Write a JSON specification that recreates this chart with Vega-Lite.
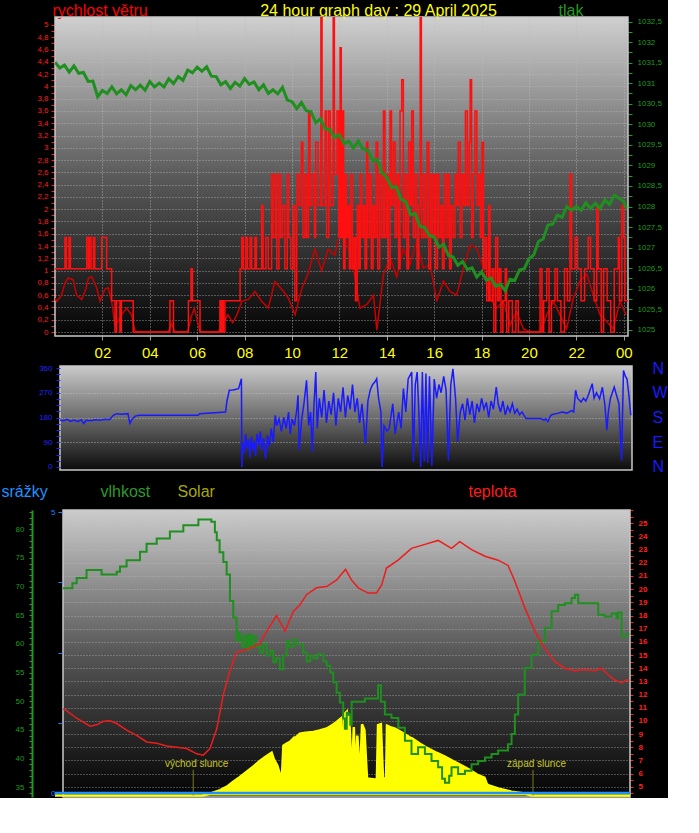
{
"$schema": "https://vega.github.io/schema/vega-lite/v6.json",
"background": "#000000",
"padding": {"left": 1, "top": 2, "right": 0, "bottom": 0},
"spacing": 30,
"bounds": "flush",
"config": {
  "view": {"stroke": null},
  "axis": {"labelFont": "Liberation Sans", "titleFont": "Liberation Sans", "titleFontWeight": "normal", "labelFontSize": 8, "domain": false, "labelFlush": false, "labelOverlap": false}
},
"datasets": {
"pres": [{"h":0,"v":1031.51},{"h":0.2,"v":1031.37},{"h":0.4,"v":1031.44},{"h":0.6,"v":1031.27},{"h":0.8,"v":1031.42},{"h":1.0,"v":1031.24},{"h":1.2,"v":1031.26},{"h":1.4,"v":1031.04},{"h":1.6,"v":1031.05},{"h":1.8,"v":1030.67},{"h":2.0,"v":1030.82},{"h":2.2,"v":1030.75},{"h":2.4,"v":1030.91},{"h":2.6,"v":1030.74},{"h":2.8,"v":1030.84},{"h":3.0,"v":1030.72},{"h":3.2,"v":1030.94},{"h":3.4,"v":1030.84},{"h":3.6,"v":1030.95},{"h":3.8,"v":1030.83},{"h":4.0,"v":1031.04},{"h":4.2,"v":1030.91},{"h":4.4,"v":1031.0},{"h":4.6,"v":1030.91},{"h":4.8,"v":1031.11},{"h":5.0,"v":1030.99},{"h":5.2,"v":1031.16},{"h":5.4,"v":1031.07},{"h":5.6,"v":1031.32},{"h":5.8,"v":1031.25},{"h":6.0,"v":1031.39},{"h":6.2,"v":1031.29},{"h":6.4,"v":1031.4},{"h":6.6,"v":1031.17},{"h":6.8,"v":1031.16},{"h":7.0,"v":1030.96},{"h":7.2,"v":1031.04},{"h":7.4,"v":1030.87},{"h":7.6,"v":1031.02},{"h":7.8,"v":1030.93},{"h":8.0,"v":1031.11},{"h":8.2,"v":1030.97},{"h":8.4,"v":1031.03},{"h":8.6,"v":1030.84},{"h":8.8,"v":1030.96},{"h":9.0,"v":1030.75},{"h":9.2,"v":1030.84},{"h":9.4,"v":1030.74},{"h":9.6,"v":1030.9},{"h":9.8,"v":1030.59},{"h":10.0,"v":1030.55},{"h":10.2,"v":1030.38},{"h":10.4,"v":1030.53},{"h":10.6,"v":1030.33},{"h":10.8,"v":1030.31},{"h":11.0,"v":1030.04},{"h":11.2,"v":1030.13},{"h":11.4,"v":1029.89},{"h":11.6,"v":1029.87},{"h":11.8,"v":1029.68},{"h":12.0,"v":1029.75},{"h":12.2,"v":1029.53},{"h":12.4,"v":1029.59},{"h":12.6,"v":1029.42},{"h":12.8,"v":1029.59},{"h":13.0,"v":1029.4},{"h":13.2,"v":1029.37},{"h":13.4,"v":1029.12},{"h":13.6,"v":1029.14},{"h":13.8,"v":1028.82},{"h":14.0,"v":1028.71},{"h":14.2,"v":1028.46},{"h":14.4,"v":1028.48},{"h":14.6,"v":1028.18},{"h":14.8,"v":1028.12},{"h":15.0,"v":1027.8},{"h":15.2,"v":1027.83},{"h":15.4,"v":1027.52},{"h":15.6,"v":1027.49},{"h":15.8,"v":1027.29},{"h":16.0,"v":1027.26},{"h":16.2,"v":1027.01},{"h":16.4,"v":1027.08},{"h":16.6,"v":1026.81},{"h":16.8,"v":1026.77},{"h":17.0,"v":1026.57},{"h":17.2,"v":1026.66},{"h":17.4,"v":1026.47},{"h":17.6,"v":1026.51},{"h":17.8,"v":1026.28},{"h":18.0,"v":1026.41},{"h":18.2,"v":1026.21},{"h":18.4,"v":1026.26},{"h":18.6,"v":1026.06},{"h":18.8,"v":1026.11},{"h":19.0,"v":1025.95},{"h":19.2,"v":1026.23},{"h":19.4,"v":1026.2},{"h":19.6,"v":1026.46},{"h":19.8,"v":1026.48},{"h":20.0,"v":1026.73},{"h":20.2,"v":1026.82},{"h":20.4,"v":1027.15},{"h":20.6,"v":1027.21},{"h":20.8,"v":1027.55},{"h":21.0,"v":1027.57},{"h":21.2,"v":1027.79},{"h":21.4,"v":1027.74},{"h":21.6,"v":1028.0},{"h":21.8,"v":1027.91},{"h":22.0,"v":1028.0},{"h":22.2,"v":1027.91},{"h":22.4,"v":1028.09},{"h":22.6,"v":1027.95},{"h":22.8,"v":1028.08},{"h":23.0,"v":1027.95},{"h":23.2,"v":1028.16},{"h":23.4,"v":1028.05},{"h":23.6,"v":1028.27},{"h":23.8,"v":1028.2},{"h":24.0,"v":1028.12},{"h":24.1,"v":1027.96}],
"gust": [{"h":0,"v":1.03},{"h":0.42,"v":1.54},{"h":0.48,"v":1.03},{"h":0.59,"v":1.54},{"h":0.65,"v":1.03},{"h":1.34,"v":1.54},{"h":1.41,"v":1.03},{"h":1.45,"v":1.54},{"h":1.52,"v":1.03},{"h":1.62,"v":1.54},{"h":1.68,"v":1.03},{"h":1.97,"v":1.54},{"h":2.18,"v":1.03},{"h":2.39,"v":0.51},{"h":2.53,"v":0},{"h":2.6,"v":0.51},{"h":2.74,"v":0},{"h":2.8,"v":0.51},{"h":3.3,"v":0},{"h":4.85,"v":0.51},{"h":5.0,"v":0},{"h":5.63,"v":0.51},{"h":5.74,"v":1.03},{"h":5.8,"v":0.51},{"h":6.12,"v":0},{"h":6.96,"v":0.51},{"h":7.0,"v":0},{"h":7.05,"v":0.51},{"h":7.1,"v":0},{"h":7.17,"v":0.51},{"h":7.81,"v":1.03},{"h":7.88,"v":1.54},{"h":7.95,"v":1.03},{"h":8.05,"v":1.54},{"h":8.12,"v":1.03},{"h":8.23,"v":1.54},{"h":8.3,"v":1.03},{"h":8.44,"v":1.54},{"h":8.5,"v":1.03},{"h":8.72,"v":2.06},{"h":8.78,"v":1.03},{"h":8.9,"v":1.54},{"h":9.0,"v":1.03},{"h":9.14,"v":2.57},{"h":9.2,"v":1.54},{"h":9.3,"v":2.57},{"h":9.36,"v":1.03},{"h":9.45,"v":2.57},{"h":9.52,"v":1.54},{"h":9.6,"v":2.06},{"h":9.7,"v":1.03},{"h":9.8,"v":2.57},{"h":9.86,"v":1.54},{"h":9.95,"v":1.03},{"h":10.05,"v":2.06},{"h":10.12,"v":0.51},{"h":10.2,"v":2.57},{"h":10.3,"v":2.06},{"h":10.4,"v":3.09},{"h":10.46,"v":1.54},{"h":10.55,"v":2.57},{"h":10.62,"v":1.54},{"h":10.7,"v":3.6},{"h":10.76,"v":2.06},{"h":10.85,"v":2.57},{"h":10.95,"v":1.54},{"h":11.0,"v":3.09},{"h":11.1,"v":2.06},{"h":11.22,"v":5.14},{"h":11.27,"v":2.06},{"h":11.4,"v":3.6},{"h":11.46,"v":1.54},{"h":11.55,"v":3.6},{"h":11.62,"v":2.06},{"h":11.74,"v":5.14},{"h":11.79,"v":2.57},{"h":11.9,"v":3.6},{"h":11.97,"v":1.54},{"h":12.03,"v":4.63},{"h":12.08,"v":1.54},{"h":12.12,"v":3.6},{"h":12.18,"v":1.03},{"h":12.24,"v":2.57},{"h":12.3,"v":1.54},{"h":12.36,"v":2.06},{"h":12.42,"v":1.03},{"h":12.48,"v":2.57},{"h":12.55,"v":1.03},{"h":12.62,"v":1.54},{"h":12.68,"v":0.51},{"h":12.75,"v":2.06},{"h":12.82,"v":1.03},{"h":12.88,"v":2.57},{"h":12.95,"v":1.54},{"h":13.02,"v":2.06},{"h":13.08,"v":1.03},{"h":13.15,"v":3.09},{"h":13.2,"v":1.54},{"h":13.28,"v":2.57},{"h":13.35,"v":1.03},{"h":13.42,"v":2.06},{"h":13.48,"v":1.54},{"h":13.55,"v":3.09},{"h":13.62,"v":1.03},{"h":13.7,"v":2.57},{"h":13.78,"v":1.54},{"h":13.86,"v":3.6},{"h":13.92,"v":1.54},{"h":14.0,"v":2.57},{"h":14.06,"v":1.03},{"h":14.14,"v":3.6},{"h":14.2,"v":2.06},{"h":14.28,"v":3.09},{"h":14.35,"v":1.54},{"h":14.42,"v":2.57},{"h":14.5,"v":1.03},{"h":14.56,"v":3.6},{"h":14.63,"v":4.11},{"h":14.7,"v":1.54},{"h":14.78,"v":2.57},{"h":14.85,"v":1.03},{"h":14.92,"v":3.09},{"h":15.0,"v":2.06},{"h":15.05,"v":3.6},{"h":15.12,"v":1.54},{"h":15.2,"v":2.57},{"h":15.28,"v":1.03},{"h":15.35,"v":2.06},{"h":15.41,"v":5.14},{"h":15.46,"v":1.54},{"h":15.55,"v":2.57},{"h":15.62,"v":1.54},{"h":15.7,"v":3.09},{"h":15.77,"v":1.03},{"h":15.85,"v":2.57},{"h":15.92,"v":1.54},{"h":16.0,"v":2.57},{"h":16.06,"v":1.03},{"h":16.14,"v":2.57},{"h":16.2,"v":1.54},{"h":16.28,"v":2.06},{"h":16.35,"v":1.03},{"h":16.42,"v":2.57},{"h":16.5,"v":1.54},{"h":16.58,"v":2.57},{"h":16.65,"v":1.03},{"h":16.72,"v":2.06},{"h":16.8,"v":1.54},{"h":16.88,"v":2.57},{"h":16.95,"v":2.06},{"h":17.02,"v":3.09},{"h":17.1,"v":1.54},{"h":17.18,"v":2.57},{"h":17.25,"v":2.06},{"h":17.32,"v":3.6},{"h":17.4,"v":2.06},{"h":17.48,"v":3.09},{"h":17.52,"v":4.11},{"h":17.58,"v":1.54},{"h":17.65,"v":2.57},{"h":17.72,"v":3.6},{"h":17.8,"v":2.06},{"h":17.88,"v":2.57},{"h":17.95,"v":1.54},{"h":18.02,"v":3.09},{"h":18.08,"v":1.03},{"h":18.15,"v":1.54},{"h":18.22,"v":0.51},{"h":18.3,"v":2.06},{"h":18.36,"v":0.51},{"h":18.45,"v":1.03},{"h":18.52,"v":0},{"h":18.6,"v":1.54},{"h":18.68,"v":0.51},{"h":18.75,"v":1.03},{"h":18.82,"v":0},{"h":18.9,"v":0.51},{"h":19.0,"v":1.03},{"h":19.06,"v":0},{"h":19.15,"v":0.51},{"h":19.3,"v":0},{"h":19.45,"v":0.51},{"h":19.55,"v":0},{"h":20.47,"v":1.03},{"h":20.55,"v":0},{"h":20.62,"v":0.51},{"h":20.75,"v":1.03},{"h":20.85,"v":0},{"h":20.95,"v":0.51},{"h":21.1,"v":1.03},{"h":21.2,"v":0.51},{"h":21.35,"v":0},{"h":21.5,"v":1.03},{"h":21.62,"v":0.51},{"h":21.73,"v":2.57},{"h":21.8,"v":1.03},{"h":21.95,"v":1.54},{"h":22.05,"v":1.03},{"h":22.2,"v":0.51},{"h":22.35,"v":1.03},{"h":22.5,"v":1.54},{"h":22.6,"v":1.03},{"h":22.75,"v":0.51},{"h":22.86,"v":2.06},{"h":22.92,"v":1.03},{"h":23.05,"v":0},{"h":23.15,"v":1.03},{"h":23.3,"v":0.51},{"h":23.45,"v":0},{"h":23.6,"v":1.03},{"h":23.77,"v":1.54},{"h":23.82,"v":0.51},{"h":23.92,"v":2.06},{"h":24.0,"v":1.54},{"h":24.05,"v":0.51},{"h":24.2,"v":0.51}],
"avg": [{"h":0,"v":0.55},{"h":0.07,"v":0.5},{"h":0.28,"v":0.6},{"h":0.42,"v":0.8},{"h":0.56,"v":0.88},{"h":0.77,"v":0.85},{"h":0.91,"v":0.6},{"h":1.13,"v":0.53},{"h":1.3,"v":0.7},{"h":1.41,"v":0.88},{"h":1.55,"v":0.9},{"h":1.76,"v":0.72},{"h":1.9,"v":0.5},{"h":2.11,"v":0.7},{"h":2.25,"v":0.72},{"h":2.39,"v":0.5},{"h":2.53,"v":0.11},{"h":2.7,"v":0.2},{"h":2.81,"v":0.28},{"h":3.02,"v":0.39},{"h":3.23,"v":0.28},{"h":3.38,"v":0},{"h":4.78,"v":0},{"h":4.92,"v":0.14},{"h":5.06,"v":0},{"h":5.6,"v":0},{"h":5.75,"v":0.25},{"h":5.88,"v":0.39},{"h":6.0,"v":0.2},{"h":6.12,"v":0},{"h":6.9,"v":0},{"h":7.03,"v":0.1},{"h":7.3,"v":0.28},{"h":7.5,"v":0.15},{"h":7.7,"v":0.3},{"h":7.88,"v":0.5},{"h":8.16,"v":0.53},{"h":8.44,"v":0.66},{"h":8.72,"v":0.5},{"h":9.0,"v":0.39},{"h":9.28,"v":0.82},{"h":9.56,"v":0.7},{"h":9.85,"v":0.55},{"h":10.13,"v":0.28},{"h":10.41,"v":0.7},{"h":10.69,"v":0.96},{"h":10.97,"v":1.35},{"h":11.25,"v":1.0},{"h":11.53,"v":1.35},{"h":11.81,"v":1.25},{"h":12.03,"v":1.63},{"h":12.31,"v":1.47},{"h":12.59,"v":1.04},{"h":12.87,"v":0.39},{"h":13.16,"v":0.45},{"h":13.44,"v":0.6},{"h":13.58,"v":0.03},{"h":13.86,"v":0.94},{"h":14.14,"v":1.21},{"h":14.42,"v":0.9},{"h":14.7,"v":1.36},{"h":14.98,"v":1.1},{"h":15.26,"v":1.47},{"h":15.55,"v":1.04},{"h":15.83,"v":1.1},{"h":16.11,"v":0.5},{"h":16.39,"v":0.83},{"h":16.67,"v":0.66},{"h":16.95,"v":0.6},{"h":17.23,"v":1.04},{"h":17.52,"v":1.42},{"h":17.8,"v":1.36},{"h":18.08,"v":1.04},{"h":18.36,"v":0.55},{"h":18.64,"v":0.39},{"h":18.92,"v":0.5},{"h":19.2,"v":0.11},{"h":19.48,"v":0.33},{"h":19.77,"v":0.05},{"h":20.05,"v":0},{"h":20.47,"v":0},{"h":20.75,"v":0.28},{"h":21.03,"v":0.5},{"h":21.31,"v":0.28},{"h":21.59,"v":0.05},{"h":21.87,"v":0.55},{"h":22.16,"v":0.83},{"h":22.44,"v":0.94},{"h":22.72,"v":0.6},{"h":23.0,"v":0.28},{"h":23.28,"v":0.17},{"h":23.56,"v":0.05},{"h":23.84,"v":0.5},{"h":24.1,"v":0.28}],
"dir": [{"h":0,"v":170},{"h":0.15,"v":168},{"h":0.3,"v":173},{"h":0.45,"v":166},{"h":0.6,"v":171},{"h":0.75,"v":165},{"h":0.9,"v":172},{"h":1.0,"v":158},{"h":1.1,"v":170},{"h":1.3,"v":168},{"h":1.5,"v":172},{"h":1.7,"v":170},{"h":1.9,"v":174},{"h":2.09,"v":172},{"h":2.25,"v":188},{"h":2.4,"v":194},{"h":2.6,"v":192},{"h":2.87,"v":194},{"h":2.95,"v":158},{"h":3.05,"v":175},{"h":3.18,"v":185},{"h":3.34,"v":188},{"h":4.5,"v":188},{"h":5.83,"v":188},{"h":5.9,"v":194},{"h":6.99,"v":200},{"h":7.05,"v":240},{"h":7.15,"v":279},{"h":7.3,"v":280},{"h":7.54,"v":285},{"h":7.66,"v":321},{"h":7.68,"v":0},{"h":7.72,"v":90},{"h":7.78,"v":50},{"h":7.84,"v":120},{"h":7.9,"v":70},{"h":7.96,"v":100},{"h":8.02,"v":35},{"h":8.08,"v":110},{"h":8.14,"v":60},{"h":8.2,"v":95},{"h":8.26,"v":40},{"h":8.32,"v":120},{"h":8.4,"v":80},{"h":8.46,"v":130},{"h":8.52,"v":60},{"h":8.6,"v":105},{"h":8.68,"v":30},{"h":8.76,"v":115},{"h":8.84,"v":75},{"h":8.92,"v":140},{"h":9.0,"v":90},{"h":9.09,"v":188},{"h":9.15,"v":150},{"h":9.25,"v":175},{"h":9.35,"v":130},{"h":9.45,"v":180},{"h":9.55,"v":140},{"h":9.65,"v":200},{"h":9.72,"v":120},{"h":9.8,"v":175},{"h":9.9,"v":150},{"h":10.0,"v":210},{"h":10.05,"v":261},{"h":10.1,"v":61},{"h":10.2,"v":170},{"h":10.3,"v":230},{"h":10.41,"v":315},{"h":10.5,"v":150},{"h":10.58,"v":200},{"h":10.65,"v":55},{"h":10.72,"v":220},{"h":10.8,"v":345},{"h":10.86,"v":140},{"h":10.95,"v":250},{"h":11.05,"v":180},{"h":11.15,"v":280},{"h":11.25,"v":160},{"h":11.35,"v":240},{"h":11.45,"v":190},{"h":11.55,"v":270},{"h":11.65,"v":150},{"h":11.75,"v":250},{"h":11.85,"v":200},{"h":11.95,"v":290},{"h":12.05,"v":180},{"h":12.15,"v":260},{"h":12.25,"v":210},{"h":12.35,"v":300},{"h":12.45,"v":200},{"h":12.55,"v":250},{"h":12.65,"v":160},{"h":12.75,"v":230},{"h":12.9,"v":85},{"h":13.0,"v":240},{"h":13.1,"v":280},{"h":13.2,"v":300},{"h":13.3,"v":310},{"h":13.37,"v":321},{"h":13.45,"v":250},{"h":13.55,"v":200},{"h":13.6,"v":0},{"h":13.68,"v":150},{"h":13.8,"v":130},{"h":13.9,"v":140},{"h":14.05,"v":230},{"h":14.15,"v":120},{"h":14.3,"v":200},{"h":14.4,"v":140},{"h":14.5,"v":285},{"h":14.6,"v":200},{"h":14.7,"v":320},{"h":14.85,"v":345},{"h":14.92,"v":18},{"h":15.0,"v":300},{"h":15.08,"v":345},{"h":15.15,"v":200},{"h":15.23,"v":0},{"h":15.3,"v":345},{"h":15.38,"v":20},{"h":15.45,"v":340},{"h":15.52,"v":15},{"h":15.6,"v":330},{"h":15.7,"v":5},{"h":15.8,"v":320},{"h":15.9,"v":250},{"h":16.0,"v":300},{"h":16.09,"v":270},{"h":16.2,"v":330},{"h":16.3,"v":280},{"h":16.4,"v":24},{"h":16.5,"v":300},{"h":16.59,"v":357},{"h":16.7,"v":250},{"h":16.79,"v":91},{"h":16.9,"v":200},{"h":17.0,"v":230},{"h":17.1,"v":170},{"h":17.2,"v":250},{"h":17.3,"v":190},{"h":17.4,"v":240},{"h":17.5,"v":160},{"h":17.6,"v":230},{"h":17.7,"v":200},{"h":17.8,"v":250},{"h":17.9,"v":210},{"h":18.0,"v":235},{"h":18.1,"v":180},{"h":18.2,"v":240},{"h":18.3,"v":210},{"h":18.42,"v":291},{"h":18.5,"v":230},{"h":18.6,"v":200},{"h":18.7,"v":240},{"h":18.8,"v":190},{"h":18.9,"v":220},{"h":19.0,"v":200},{"h":19.1,"v":230},{"h":19.2,"v":195},{"h":19.3,"v":210},{"h":19.4,"v":190},{"h":19.51,"v":200},{"h":19.67,"v":176},{"h":20.0,"v":176},{"h":20.3,"v":176},{"h":20.44,"v":170},{"h":20.5,"v":176},{"h":20.6,"v":165},{"h":20.7,"v":185},{"h":20.76,"v":190},{"h":21.0,"v":195},{"h":21.2,"v":200},{"h":21.4,"v":196},{"h":21.6,"v":205},{"h":21.69,"v":200},{"h":21.77,"v":279},{"h":21.85,"v":250},{"h":22.0,"v":236},{"h":22.1,"v":250},{"h":22.2,"v":240},{"h":22.3,"v":260},{"h":22.47,"v":303},{"h":22.55,"v":250},{"h":22.65,"v":270},{"h":22.78,"v":248},{"h":22.9,"v":290},{"h":23.0,"v":230},{"h":23.09,"v":134},{"h":23.15,"v":200},{"h":23.24,"v":250},{"h":23.32,"v":270},{"h":23.4,"v":291},{"h":23.5,"v":260},{"h":23.6,"v":230},{"h":23.71,"v":24},{"h":23.79,"v":351},{"h":23.87,"v":330},{"h":23.94,"v":320},{"h":24.02,"v":260},{"h":24.1,"v":188}],
"hum": [{"h":0,"v":69.7},{"h":0.4,"v":70.6},{"h":0.58,"v":71.5},{"h":1.0,"v":72.9},{"h":1.64,"v":72.1},{"h":2.28,"v":72.6},{"h":2.42,"v":73.5},{"h":2.7,"v":74.6},{"h":3.27,"v":76.1},{"h":3.55,"v":77.5},{"h":3.98,"v":78.4},{"h":4.54,"v":79.6},{"h":5.11,"v":80.7},{"h":5.75,"v":81.7},{"h":6.3,"v":81.3},{"h":6.45,"v":79.5},{"h":6.53,"v":78.1},{"h":6.65,"v":76},{"h":6.81,"v":74.3},{"h":6.95,"v":72.1},{"h":7.09,"v":67.5},{"h":7.23,"v":64.6},{"h":7.37,"v":60.5},{"h":7.45,"v":62},{"h":7.52,"v":61.1},{"h":7.6,"v":59.5},{"h":7.7,"v":61.5},{"h":7.8,"v":59},{"h":7.9,"v":61.6},{"h":8.0,"v":59.5},{"h":8.08,"v":61.3},{"h":8.2,"v":59.5},{"h":8.37,"v":58.5},{"h":8.5,"v":60},{"h":8.65,"v":58},{"h":8.8,"v":58.8},{"h":8.93,"v":56.8},{"h":9.05,"v":57.5},{"h":9.21,"v":55.6},{"h":9.35,"v":58},{"h":9.5,"v":60.5},{"h":9.6,"v":59.5},{"h":9.78,"v":60.8},{"h":9.9,"v":60},{"h":10.06,"v":59.9},{"h":10.2,"v":58.5},{"h":10.35,"v":57},{"h":10.5,"v":58},{"h":10.63,"v":57.5},{"h":10.8,"v":58.2},{"h":11.06,"v":57},{"h":11.2,"v":56.2},{"h":11.35,"v":55},{"h":11.48,"v":53.3},{"h":11.62,"v":51.5},{"h":11.76,"v":49.8},{"h":11.9,"v":47},{"h":11.97,"v":45.2},{"h":12.05,"v":48},{"h":12.12,"v":47.7},{"h":12.2,"v":45.9},{"h":12.26,"v":49.9},{"h":12.5,"v":49.9},{"h":12.82,"v":50.5},{"h":13.2,"v":50.5},{"h":13.38,"v":52.8},{"h":13.5,"v":49.9},{"h":13.67,"v":47.7},{"h":13.95,"v":47.1},{"h":14.24,"v":45.4},{"h":14.52,"v":43.1},{"h":14.8,"v":40.8},{"h":15.08,"v":42},{"h":15.37,"v":40.8},{"h":15.65,"v":39.6},{"h":15.93,"v":38.5},{"h":16.1,"v":36.5},{"h":16.22,"v":35.8},{"h":16.4,"v":37},{"h":16.5,"v":38.5},{"h":16.78,"v":37.3},{"h":17.07,"v":37.9},{"h":17.35,"v":39},{"h":17.63,"v":39.6},{"h":17.92,"v":40.2},{"h":18.2,"v":40.8},{"h":18.48,"v":41.4},{"h":18.9,"v":42.5},{"h":19.05,"v":44.3},{"h":19.19,"v":47.7},{"h":19.33,"v":51.2},{"h":19.61,"v":55.8},{"h":19.9,"v":58.1},{"h":20.18,"v":60.5},{"h":20.46,"v":62.8},{"h":20.75,"v":65.7},{"h":21.03,"v":66.8},{"h":21.31,"v":67.1},{"h":21.6,"v":68},{"h":21.74,"v":68.6},{"h":21.88,"v":67.1},{"h":22.6,"v":67.1},{"h":22.73,"v":65.1},{"h":23.0,"v":64.8},{"h":23.3,"v":65.3},{"h":23.5,"v":64.5},{"h":23.58,"v":65.5},{"h":23.72,"v":61.3},{"h":23.93,"v":61.8},{"h":24.05,"v":61.8}],
"temp": [{"h":0,"v":10.9},{"h":0.09,"v":10.85},{"h":0.58,"v":10.2},{"h":1.15,"v":9.6},{"h":1.43,"v":9.7},{"h":1.71,"v":9.97},{"h":2.0,"v":10.0},{"h":2.28,"v":9.8},{"h":2.7,"v":9.3},{"h":3.13,"v":8.9},{"h":3.55,"v":8.4},{"h":3.98,"v":8.3},{"h":4.4,"v":8.1},{"h":4.83,"v":8.0},{"h":5.25,"v":7.9},{"h":5.68,"v":7.5},{"h":5.96,"v":7.4},{"h":6.24,"v":7.9},{"h":6.53,"v":9.4},{"h":6.81,"v":12.0},{"h":7.09,"v":13.8},{"h":7.37,"v":15.2},{"h":7.8,"v":15.4},{"h":8.37,"v":15.9},{"h":8.65,"v":16.8},{"h":9.07,"v":18.0},{"h":9.43,"v":16.8},{"h":9.78,"v":18.3},{"h":10.06,"v":18.8},{"h":10.35,"v":19.6},{"h":10.77,"v":20.1},{"h":11.2,"v":20.2},{"h":11.62,"v":20.7},{"h":12.0,"v":21.5},{"h":12.25,"v":20.7},{"h":12.54,"v":20.1},{"h":12.96,"v":19.7},{"h":13.31,"v":19.7},{"h":13.53,"v":20.3},{"h":13.74,"v":21.6},{"h":14.23,"v":22.2},{"h":14.8,"v":23.1},{"h":15.37,"v":23.4},{"h":15.93,"v":23.7},{"h":16.5,"v":23.1},{"h":16.85,"v":23.6},{"h":17.35,"v":23.0},{"h":17.92,"v":22.5},{"h":18.48,"v":22.2},{"h":18.9,"v":21.8},{"h":19.19,"v":20.6},{"h":19.61,"v":18.6},{"h":20.04,"v":16.8},{"h":20.46,"v":15.5},{"h":20.89,"v":14.5},{"h":21.31,"v":14.0},{"h":21.74,"v":13.8},{"h":22.16,"v":13.9},{"h":22.59,"v":13.8},{"h":22.87,"v":14.0},{"h":23.15,"v":13.5},{"h":23.43,"v":13.1},{"h":23.72,"v":12.9},{"h":23.93,"v":13.1},{"h":24.05,"v":13.1}],
"solar": [{"h":-0.4,"v":0},{"h":5.9,"v":0},{"h":6.03,"v":2},{"h":6.3,"v":8},{"h":6.67,"v":19},{"h":7.0,"v":33},{"h":7.23,"v":48},{"h":7.5,"v":64},{"h":7.8,"v":83},{"h":8.1,"v":103},{"h":8.37,"v":122},{"h":8.6,"v":136},{"h":8.86,"v":150},{"h":8.95,"v":128},{"h":9.1,"v":105},{"h":9.21,"v":75},{"h":9.3,"v":71},{"h":9.36,"v":175},{"h":9.5,"v":182},{"h":9.64,"v":188},{"h":9.78,"v":200},{"h":9.8,"v":120},{"h":9.83,"v":200},{"h":10.06,"v":217},{"h":10.3,"v":220},{"h":10.63,"v":223},{"h":10.9,"v":228},{"h":11.2,"v":235},{"h":11.4,"v":245},{"h":11.62,"v":258},{"h":11.8,"v":270},{"h":11.89,"v":80},{"h":11.93,"v":285},{"h":12.05,"v":294},{"h":12.1,"v":70},{"h":12.15,"v":280},{"h":12.27,"v":60},{"h":12.35,"v":240},{"h":12.42,"v":60},{"h":12.5,"v":210},{"h":12.61,"v":55},{"h":12.7,"v":250},{"h":12.8,"v":230},{"h":12.91,"v":60},{"h":13.33,"v":55},{"h":13.38,"v":247},{"h":13.5,"v":250},{"h":13.59,"v":60},{"h":13.72,"v":60},{"h":13.76,"v":245},{"h":13.9,"v":240},{"h":14.1,"v":235},{"h":14.45,"v":218},{"h":14.6,"v":210},{"h":14.62,"v":100},{"h":14.65,"v":208},{"h":14.8,"v":200},{"h":14.84,"v":90},{"h":14.87,"v":198},{"h":15.15,"v":182},{"h":15.5,"v":165},{"h":15.86,"v":150},{"h":16.22,"v":136},{"h":16.57,"v":121},{"h":16.92,"v":106},{"h":17.27,"v":90},{"h":17.63,"v":71},{"h":17.9,"v":62},{"h":18.0,"v":40},{"h":18.06,"v":36},{"h":18.48,"v":25},{"h":19.05,"v":13},{"h":19.61,"v":7},{"h":19.9,"v":0},{"h":24.2,"v":0}],
"precip": [{"h":-0.4,"v":0},{"h":6,"v":0},{"h":12,"v":0},{"h":18,"v":0},{"h":24.2,"v":0}],
"sun": [{"h":5.53,"label":"východ slunce"},{"h":19.96,"label":"západ slunce"}]
},
"vconcat": [
{
  "width": 573, "height": 319,
  "view": {"stroke": null, "fill": {"gradient": "linear", "x1": 0, "y1": 0, "x2": 0, "y2": 1, "stops": [{"offset": 0, "color": "#d0d0d0"}, {"offset": 0.5, "color": "#5a5a5a"}, {"offset": 1, "color": "#040404"}]}},
  "layer": [
    {"data": {"values": [{}]},
     "mark": {"type": "rect", "filled": false, "stroke": "#c8c8c8", "strokeWidth": 1.5},
     "encoding": {
       "x": {"datum": 0, "type": "quantitative", "scale": {"domain": [0, 24.18], "nice": false, "zero": false},
             "axis": {"orient": "bottom", "values": [2,4,6,8,10,12,14,16,18,20,22,24], "labelExpr": "datum.value==24 ? '00' : (datum.value<10 ? '0'+datum.value : ''+datum.value)", "labelColor": "#ffff00", "labelFontSize": 15, "tickSize": 4, "tickColor": "#9a9a9a", "labelPadding": 5, "grid": true, "gridColor": "#bcbcbc", "gridDash": [1, 2], "gridOpacity": 0.8, "title": null}},
       "x2": {"datum": 24.18},
       "y": {"datum": 0, "type": "quantitative", "scale": {"domain": [0, 1], "nice": false, "zero": false}, "axis": null},
       "y2": {"datum": 1}
     }},
    {"data": {"name": "avg"},
     "mark": {"type": "line", "color": "#c80000", "strokeWidth": 1.5, "clip": true},
     "encoding": {
       "x": {"field": "h", "type": "quantitative", "scale": {"domain": [0, 24.18], "nice": false, "zero": false}, "axis": null},
       "y": {"field": "v", "type": "quantitative", "scale": {"domain": [-0.065, 5.13], "nice": false, "zero": false}, "axis": null}
     }},
    {"data": {"name": "gust"},
     "mark": {"type": "line", "color": "#ff1010", "strokeWidth": 1.5, "interpolate": "step-after", "clip": true},
     "encoding": {
       "x": {"field": "h", "type": "quantitative", "scale": {"domain": [0, 24.18], "nice": false, "zero": false}, "axis": null},
       "y": {"field": "v", "type": "quantitative", "scale": {"domain": [-0.065, 5.13], "nice": false, "zero": false},
             "axis": {"orient": "left", "values": [0,0.1,0.2,0.3,0.4,0.5,0.6,0.7,0.8,0.9,1,1.1,1.2,1.3,1.4,1.5,1.6,1.7,1.8,1.9,2,2.1,2.2,2.3,2.4,2.5,2.6,2.7,2.8,2.9,3,3.1,3.2,3.3,3.4,3.5,3.6,3.7,3.8,3.9,4,4.1,4.2,4.3,4.4,4.5,4.6,4.7,4.8,4.9,5],
                      "labelExpr": "round(datum.value*10)%2==0 ? replace(format(datum.value,'.1~f'),'.',',') : ''",
                      "labelColor": "#ff1a1a", "labelFontSize": 8, "tickColor": "#ff1a1a", "tickSize": 4, "labelPadding": 3,
                      "grid": true, "gridColor": "#bcbcbc", "gridDash": [1, 2], "gridOpacity": {"condition": {"test": "round(datum.value*10)%2!=0", "value": 0}, "value": 0.75},
                      "title": "rychlost větru", "titleColor": "#ff0000", "titleFontSize": 16, "titleAngle": 0, "titleAlign": "left", "titleBaseline": "middle", "titleX": -3, "titleY": -7}}
     }},
    {"data": {"name": "pres"},
     "mark": {"type": "line", "color": "#1f8f1f", "strokeWidth": 3, "clip": true},
     "encoding": {
       "x": {"field": "h", "type": "quantitative", "scale": {"domain": [0, 24.18], "nice": false, "zero": false},
             "axis": {"orient": "top", "labels": false, "ticks": false, "grid": false, "title": "24 hour graph day : 29 April 2025", "titleColor": "#ffff00", "titleFontSize": 16, "titleAngle": 0, "titleAlign": "center", "titleBaseline": "middle", "titleX": 323, "titleY": -7}},
       "y": {"field": "v", "type": "quantitative", "scale": {"domain": [1024.85, 1032.61], "nice": false, "zero": false},
             "axis": {"orient": "right", "values": [1025,1025.25,1025.5,1025.75,1026,1026.25,1026.5,1026.75,1027,1027.25,1027.5,1027.75,1028,1028.25,1028.5,1028.75,1029,1029.25,1029.5,1029.75,1030,1030.25,1030.5,1030.75,1031,1031.25,1031.5,1031.75,1032,1032.25,1032.5],
                      "labelExpr": "(datum.value*2)%1==0 ? replace(format(datum.value,'.1~f'),'.',',') : ''",
                      "labelColor": "#1f9a1f", "labelFontSize": 8, "tickColor": "#1f9a1f", "tickSize": 4, "labelPadding": 5, "grid": false,
                      "title": "tlak", "titleColor": "#1f9a1f", "titleFontSize": 16, "titleAngle": 0, "titleAlign": "left", "titleBaseline": "middle", "titleX": -70, "titleY": -7}}
     }}
  ],
  "resolve": {"scale": {"y": "independent"}, "axis": {"x": "independent", "y": "independent"}}
},
{
  "width": 577, "height": 114,
  "view": {"stroke": null, "fill": {"gradient": "linear", "x1": 0, "y1": 0, "x2": 0, "y2": 1, "stops": [{"offset": 0, "color": "#cacaca"}, {"offset": 0.91, "color": "#0c0c0c"}, {"offset": 1, "color": "#000000"}]}},
  "layer": [
    {"data": {"values": [{}]},
     "mark": {"type": "rect", "color": "#000000"},
     "encoding": {
       "x": {"datum": -0.21, "type": "quantitative", "scale": {"domain": [-0.21, 24.15], "nice": false, "zero": false}, "axis": null},
       "x2": {"datum": 0},
       "y": {"datum": -47.3, "type": "quantitative", "scale": {"domain": [-47.3, 367.3], "nice": false, "zero": false},
             "axis": {"orient": "left", "values": [90, 180, 270], "labels": false, "ticks": false, "grid": true, "gridColor": "#c4c4c4", "gridDash": [1, 2], "gridOpacity": 0.8, "title": null}},
       "y2": {"datum": 367.3}
     }},
    {"data": {"values": [{}]},
     "mark": {"type": "rect", "color": "#000000"},
     "encoding": {
       "x": {"datum": -0.21, "type": "quantitative", "scale": {"domain": [-0.21, 24.15], "nice": false, "zero": false}, "axis": null},
       "x2": {"datum": 24.15},
       "y": {"datum": -47.3, "type": "quantitative", "scale": {"domain": [-47.3, 367.3], "nice": false, "zero": false}, "axis": null},
       "y2": {"datum": -10.9}
     }},
    {"data": {"values": [{}]},
     "mark": {"type": "rect", "filled": false, "stroke": "#c8c8c8", "strokeWidth": 1.5},
     "encoding": {
       "x": {"datum": 0, "type": "quantitative", "scale": {"domain": [-0.21, 24.15], "nice": false, "zero": false}, "axis": null},
       "x2": {"datum": 24.15},
       "y": {"datum": -10.9, "type": "quantitative", "scale": {"domain": [-47.3, 367.3], "nice": false, "zero": false},
             "axis": {"orient": "right", "values": [0, 90, 180, 270, 360], "labelExpr": "datum.value==270 ? 'W' : datum.value==180 ? 'S' : datum.value==90 ? 'E' : 'N'", "labelColor": "#1a1aff", "labelFontSize": 16, "labelAlign": "left", "labelBaseline": "middle", "ticks": false, "tickSize": 0, "labelPadding": 20, "grid": false, "title": null}},
       "y2": {"datum": 367.3}
     }},
    {"data": {"name": "dir"},
     "mark": {"type": "line", "color": "#1a1aff", "strokeWidth": 1.5, "clip": true},
     "encoding": {
       "x": {"field": "h", "type": "quantitative", "scale": {"domain": [-0.21, 24.15], "nice": false, "zero": false}, "axis": null},
       "y": {"field": "v", "type": "quantitative", "scale": {"domain": [-47.3, 367.3], "nice": false, "zero": false},
             "axis": {"orient": "left", "offset": -5, "zindex": 1, "values": [0,22.5,45,67.5,90,112.5,135,157.5,180,202.5,225,247.5,270,292.5,315,337.5,360], "labelExpr": "datum.value%90==0 ? format(datum.value,'d') : ''", "labelColor": "#2424ff", "labelFontSize": 8, "tickColor": "#2424ff", "tickSize": 4, "labelPadding": 4, "grid": false, "title": null}}
     }}
  ],
  "resolve": {"scale": {"y": "independent"}, "axis": {"y": "independent"}}
},
{
  "width": 575, "height": 287,
  "view": {"stroke": null, "fill": {"gradient": "linear", "x1": 0, "y1": 0, "x2": 0, "y2": 1, "stops": [{"offset": 0, "color": "#cccccc"}, {"offset": 0.5, "color": "#565656"}, {"offset": 1, "color": "#030303"}]}},
  "layer": [
    {"data": {"values": [{}]},
     "mark": {"type": "rect", "color": "#000000"},
     "encoding": {
       "x": {"datum": -0.34, "type": "quantitative", "scale": {"domain": [-0.34, 24.08], "nice": false, "zero": false},
             "axis": {"orient": "bottom", "values": [2,4,6,8,10,12,14,16,18,20,22,24], "labelExpr": "datum.value==24 ? '00' : (datum.value<10 ? '0'+datum.value : ''+datum.value)", "labelColor": "#ffff00", "labelFontSize": 15, "tickSize": 4, "tickColor": "#9a9a9a", "labelPadding": 4, "grid": true, "gridColor": "#bcbcbc", "gridDash": [1, 2], "gridOpacity": 0.8, "title": null}},
       "x2": {"datum": 0},
       "y": {"datum": 0, "type": "quantitative", "scale": {"domain": [0, 1], "nice": false, "zero": false}, "axis": null},
       "y2": {"datum": 1}
     }},
    {"data": {"values": [{}]},
     "mark": {"type": "rect", "filled": false, "stroke": "#c8c8c8", "strokeWidth": 1.5},
     "encoding": {
       "x": {"datum": 0, "type": "quantitative", "scale": {"domain": [-0.34, 24.08], "nice": false, "zero": false}, "axis": null},
       "x2": {"datum": 24.08},
       "y": {"datum": 0, "type": "quantitative", "scale": {"domain": [0, 1], "nice": false, "zero": false}, "axis": null},
       "y2": {"datum": 1}
     }},
    {"layer": [
      {"data": {"name": "solar"},
       "mark": {"type": "area", "color": "#ffff00", "opacity": 1, "fillOpacity": 1, "line": {"color": "#ffff00", "strokeWidth": 2.5}, "clip": true},
       "encoding": {
         "x": {"field": "h", "type": "quantitative", "scale": {"domain": [-0.34, 24.08], "nice": false, "zero": false}, "axis": null},
         "y": {"field": "v", "type": "quantitative", "scale": {"domain": [-5.3, 1002], "nice": false, "zero": false},
               "axis": {"orient": "left", "labels": false, "ticks": false, "grid": false, "title": "Solar", "titleColor": "#a8a800", "titleFontSize": 16, "titleAngle": 0, "titleAlign": "left", "titleBaseline": "middle", "titleX": 122, "titleY": -19}}
       }},
      {"data": {"name": "sun"},
       "mark": {"type": "rule", "color": "#7c7c1c", "strokeWidth": 1},
       "encoding": {
         "x": {"field": "h", "type": "quantitative", "scale": {"domain": [-0.34, 24.08], "nice": false, "zero": false}, "axis": null},
         "y": {"datum": 0, "type": "quantitative"},
         "y2": {"datum": 90}
       }},
      {"data": {"name": "sun"},
       "mark": {"type": "text", "color": "#c8c820", "fontSize": 10, "font": "Liberation Sans", "dx": 3.5, "baseline": "middle"},
       "encoding": {
         "x": {"field": "h", "type": "quantitative", "scale": {"domain": [-0.34, 24.08], "nice": false, "zero": false}, "axis": null},
         "y": {"datum": 110, "type": "quantitative"},
         "text": {"field": "label"}
       }}
    ]},
    {"data": {"name": "hum"},
     "mark": {"type": "line", "color": "#1f8f1f", "strokeWidth": 2, "interpolate": "step-after", "clip": true},
     "encoding": {
       "x": {"field": "h", "type": "quantitative", "scale": {"domain": [-0.34, 24.08], "nice": false, "zero": false}, "axis": null},
       "y": {"field": "v", "type": "quantitative", "scale": {"domain": [33.3, 83.37], "nice": false, "zero": false},
             "axis": {"orient": "left", "offset": 23, "values": [34,35,36,37,38,39,40,41,42,43,44,45,46,47,48,49,50,51,52,53,54,55,56,57,58,59,60,61,62,63,64,65,66,67,68,69,70,71,72,73,74,75,76,77,78,79,80,81,82,83], "labelExpr": "datum.value%5==0 ? format(datum.value,'d') : ''", "labelColor": "#1f9a1f", "labelFontSize": 8, "tickColor": "#1f9a1f", "tickSize": 3, "labelPadding": 5, "domain": true, "domainColor": "#1f9a1f", "domainWidth": 2, "grid": false,
                      "title": "vlhkost", "titleColor": "#2a9a2a", "titleFontSize": 16, "titleAngle": 0, "titleAlign": "left", "titleBaseline": "middle", "titleX": 68, "titleY": -19}}
     }},
    {"data": {"name": "temp"},
     "mark": {"type": "line", "color": "#ee1c1c", "strokeWidth": 1.5, "clip": true},
     "encoding": {
       "x": {"field": "h", "type": "quantitative", "scale": {"domain": [-0.34, 24.08], "nice": false, "zero": false}, "axis": null},
       "y": {"field": "v", "type": "quantitative", "scale": {"domain": [4.22, 26.01], "nice": false, "zero": false},
             "axis": {"orient": "right", "values": [4.5,5,5.5,6,6.5,7,7.5,8,8.5,9,9.5,10,10.5,11,11.5,12,12.5,13,13.5,14,14.5,15,15.5,16,16.5,17,17.5,18,18.5,19,19.5,20,20.5,21,21.5,22,22.5,23,23.5,24,24.5,25,25.5,26], "labelExpr": "datum.value%1==0 && datum.value<=25 ? format(datum.value,'d') : ''", "labelColor": "#ff2020", "labelFontSize": 8, "labelFontWeight": "bold", "tickColor": "#ff2020", "tickSize": 3, "labelPadding": 5,
                      "grid": true, "gridColor": "#bcbcbc", "gridDash": [1, 2], "gridOpacity": {"condition": {"test": "datum.value%1!=0", "value": 0}, "value": 0.7},
                      "title": "teplota", "titleColor": "#ff1a1a", "titleFontSize": 16, "titleAngle": 0, "titleAlign": "left", "titleBaseline": "middle", "titleX": -162, "titleY": -19}}
     }},
    {"data": {"name": "precip"},
     "mark": {"type": "line", "color": "#1e90ff", "strokeWidth": 2.5, "clip": true},
     "encoding": {
       "x": {"field": "h", "type": "quantitative", "scale": {"domain": [-0.34, 24.08], "nice": false, "zero": false}, "axis": null},
       "y": {"field": "v", "type": "quantitative", "scale": {"domain": [-0.071, 5.036], "nice": false, "zero": false},
             "axis": {"orient": "left", "offset": -7, "zindex": 1, "values": [0, 1.25, 2.5, 3.75, 5], "labelExpr": "datum.value==0 || datum.value==5 ? format(datum.value,'d') : ''", "labelColor": "#1e80ff", "labelFontSize": 8, "tickColor": "#1e80ff", "tickSize": 4, "labelPadding": 3, "grid": false,
                      "title": "srážky", "titleColor": "#1e90ff", "titleFontSize": 16, "titleAngle": 0, "titleAlign": "left", "titleBaseline": "middle", "titleX": -61, "titleY": -19}}
     }}
  ],
  "resolve": {"scale": {"y": "independent"}, "axis": {"y": "independent"}}
}
]
}
